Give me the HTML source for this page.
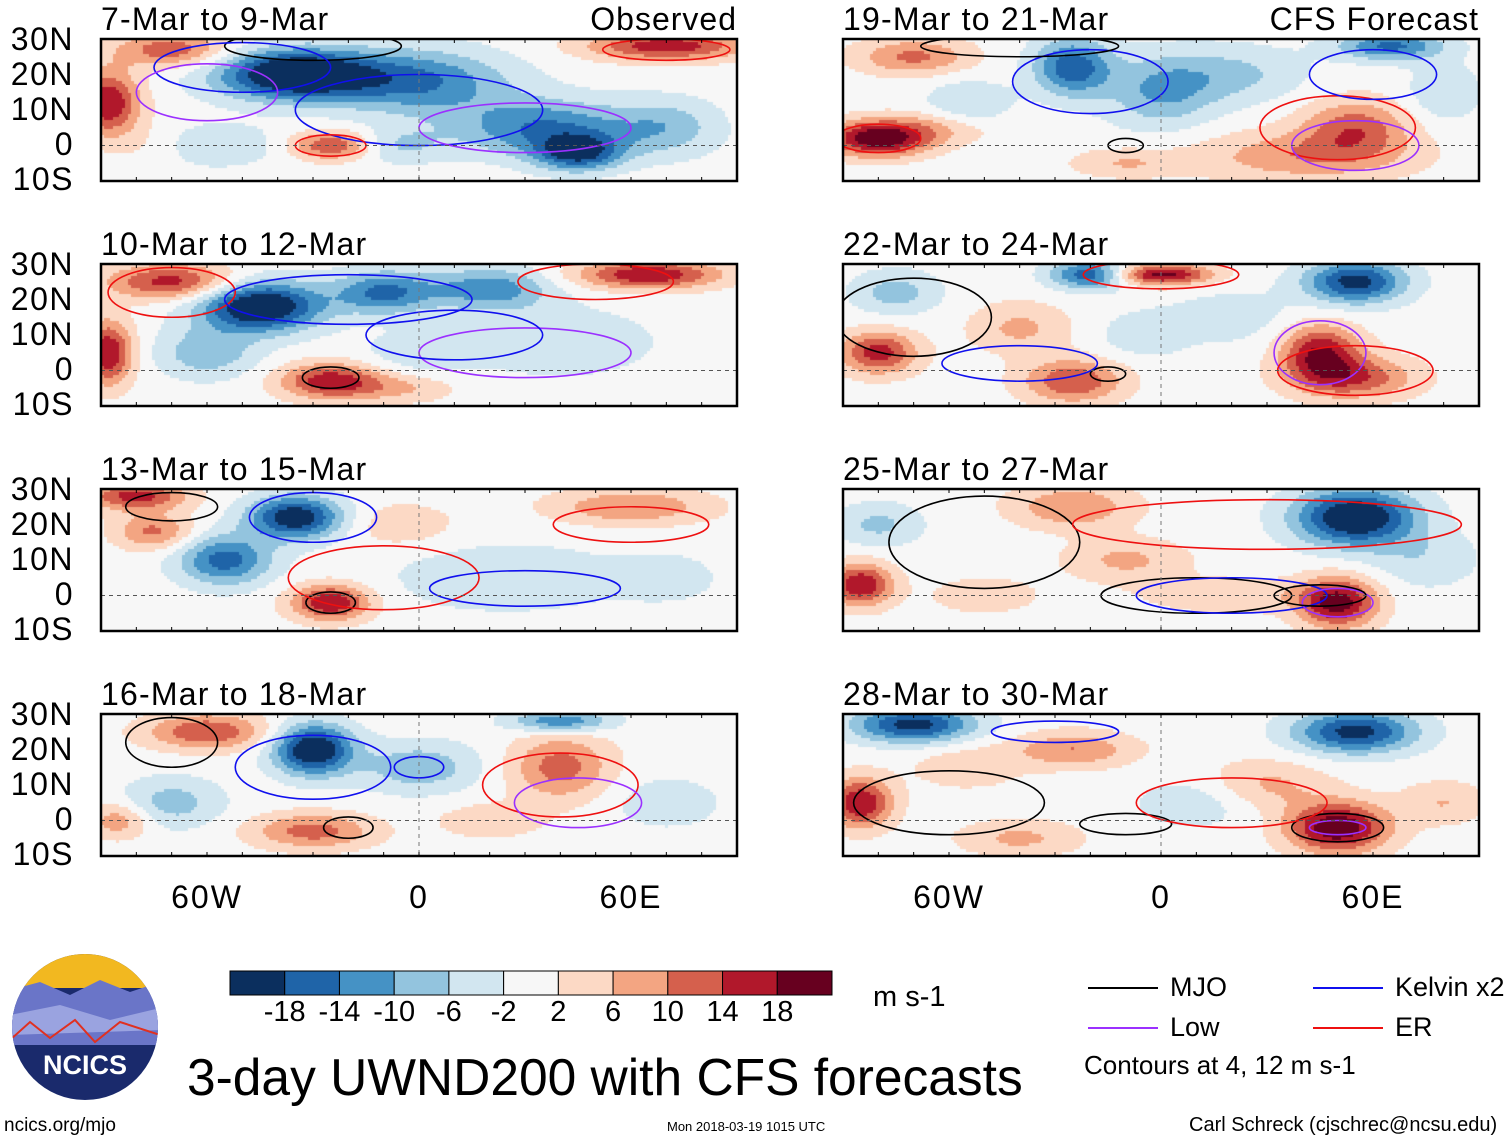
<!DOCTYPE html>
<html><head><meta charset="utf-8">
<style>
body{margin:0;background:#fff;width:1510px;height:1142px;position:relative;overflow:hidden;font-family:"Liberation Sans",sans-serif;}
.t{position:absolute;white-space:nowrap;color:#000;line-height:1;z-index:5;}
canvas{position:absolute;}
</style></head><body>
<svg id="ov" width="1510" height="1142" style="position:absolute;left:0;top:0"></svg>
<div id="root"></div>
<script>
// panel data: blobs [lon, lat, amp, rx, ry]
const panelTitles = ["7-Mar to 9-Mar","19-Mar to 21-Mar","10-Mar to 12-Mar","22-Mar to 24-Mar","13-Mar to 15-Mar","25-Mar to 27-Mar","16-Mar to 18-Mar","28-Mar to 30-Mar"];
const blobs0 = [[-35,20,-26,22,7],[0,18,-14,25,9],[35,5,-14,25,8],[45,-2,-18,12,5],[70,5,-8,15,8],[-88,12,18,9,9],[-25,0,14,11,4],[70,28,17,22,4],[-70,27,13,16,5],[-60,0,-6,20,6],[-5,0,-6,12,5],[-75,0,4,12,6]];
const blobs1 = [[-80,2,22,14,5],[-60,5,8,15,5],[-25,22,-17,11,8],[0,15,-10,15,10],[40,-3,9,30,7],[55,5,12,15,8],[65,28,-15,15,4],[-70,25,11,16,5],[-55,10,-7,12,8],[20,20,-7,20,8],[-10,-5,6,15,4],[80,15,-6,10,8]];
const blobs2 = [[-45,18,-25,17,7],[-10,22,-15,14,6],[20,23,-13,17,6],[-70,25,16,18,5],[-88,5,18,7,9],[-25,-3,17,14,5],[65,27,18,20,4],[-60,5,-9,14,7],[40,8,-6,25,9],[0,5,-5,15,6],[-5,-5,6,15,4]];
const blobs3 = [[-20,27,-18,11,4],[0,27,20,14,3],[55,25,-20,14,6],[45,5,18,11,8],[55,-2,13,17,6],[-80,5,16,11,6],[-25,-3,14,14,6],[-40,12,7,14,7],[-75,22,-8,12,6],[-5,10,-5,12,6],[20,15,-4,20,8]];
const blobs4 = [[-35,22,-22,13,6],[-55,10,-16,13,7],[-80,28,16,14,4],[-75,18,11,11,5],[-25,-2,18,11,5],[60,25,10,22,5],[25,5,-6,30,9],[-5,20,5,15,6],[70,5,-4,15,7]];
const blobs5 = [[55,22,-24,17,8],[50,-2,20,11,7],[-85,3,18,9,6],[-25,25,10,17,6],[-10,10,7,17,6],[-80,20,-7,12,6],[20,0,5,25,5],[-50,0,5,15,5],[75,10,-5,15,8]];
const blobs6 = [[-30,20,-24,11,7],[-60,25,14,17,5],[-30,-3,12,17,5],[40,15,12,14,9],[0,15,-9,17,7],[40,28,-14,14,3],[-70,5,-8,14,7],[-85,0,9,9,5],[70,5,-5,15,7],[20,0,5,15,5]];
const blobs7 = [[-70,27,-20,17,5],[55,25,-20,17,6],[50,-2,22,14,7],[-85,5,18,9,7],[-25,20,10,17,5],[-40,-5,7,17,5],[30,10,7,17,7],[10,5,-5,17,7],[-55,15,5,15,6],[80,5,6,12,6]];
const allBlobs = [blobs0,blobs1,blobs2,blobs3,blobs4,blobs5,blobs6,blobs7];
// contour ellipses [lon, lat, rx, ry, kind]
const contours = [
 [[-30,28,25,4,"k"],[-50,22,25,7,"b"],[0,10,35,10,"b"],[-60,15,20,8,"p"],[-25,0,10,3,"r"],[70,27,18,3,"r"],[30,5,30,7,"p"]],
 [[-80,2,12,4,"r"],[-20,18,22,9,"b"],[-10,0,5,2,"k"],[50,5,22,9,"r"],[55,0,18,7,"p"],[-40,28,28,3,"k"],[60,20,18,7,"b"]],
 [[-70,22,18,7,"r"],[-20,20,35,7,"b"],[-25,-2,8,3,"k"],[50,25,22,5,"r"],[30,5,30,7,"p"],[10,10,25,7,"b"]],
 [[0,27,22,4,"r"],[45,5,13,9,"p"],[55,0,22,7,"r"],[-15,-1,5,2,"k"],[-40,2,22,5,"b"],[-70,15,22,11,"k"]],
 [[-30,22,18,7,"b"],[-70,25,13,4,"k"],[-25,-2,7,3,"k"],[-10,5,27,9,"r"],[30,2,27,5,"b"],[60,20,22,5,"r"]],
 [[-50,15,27,13,"k"],[10,0,27,5,"k"],[20,0,27,5,"b"],[50,-2,10,4,"p"],[45,0,13,3,"k"],[30,20,55,7,"r"]],
 [[-30,15,22,9,"b"],[-70,22,13,7,"k"],[-20,-2,7,3,"k"],[40,10,22,9,"r"],[45,5,18,7,"p"],[0,15,7,3,"b"]],
 [[-60,5,27,9,"k"],[-10,-1,13,3,"k"],[50,-2,13,4,"k"],[50,-2,8,2,"p"],[-30,25,18,3,"b"],[20,5,27,7,"r"]]
];
const levels = [-18,-14,-10,-6,-2,2,6,10,14,18];
const colors = ["#0b2f5e","#1f64a8","#4592c5","#93c4de","#d2e6f0","#f7f7f7","#fcd9c5","#f3a582","#d5604d","#b1182b","#67001f"];
const latTicks = ["30N","20N","10N","0","10S"];
const lonTicks = ["60W","0","60E"];
const lonVals = [-60,0,60];
const cbLabels = ["-18","-14","-10","-6","-2","2","6","10","14","18"];

const root=document.getElementById('root');
const ov=document.getElementById('ov');
const NS="http://www.w3.org/2000/svg";
const PW=636,PH=142;
const colX=[101,843], rowY=[39,264,489,714];
const lx=(lon,x0)=>x0+(lon+90)/180*PW;
const ly=(lat,y0)=>y0+(30-lat)/40*PH;
function colorFor(v){let i=0;while(i<levels.length&&v>levels[i])i++;return colors[i];}
function txt(s,x,y,size,anchor,name,ls){const d=document.createElement('div');d.className='t';d.textContent=s;d.style.fontSize=size+'px';d.style.top=y+'px';
 if(ls)d.style.letterSpacing=ls+'px';
 if(anchor==='r'){d.style.right=(1510-x)+'px';}else if(anchor==='c'){d.style.left=x+'px';d.style.transform='translateX(-50%)';}else d.style.left=x+'px';
 root.appendChild(d);return d;}
const kcol={k:"#000",b:"#1010ee",p:"#9b30ff",r:"#ee1010"};
for(let p=0;p<8;p++){
 const c=p%2,r=Math.floor(p/2),x0=colX[c],y0=rowY[r];
 const cv=document.createElement('canvas');cv.width=PW;cv.height=PH;cv.style.left=x0+'px';cv.style.top=y0+'px';cv.style.zIndex=0;
 document.body.insertBefore(cv,ov);
 const ctx=cv.getContext('2d');const bl=allBlobs[p];const cs=3;
 for(let py=0;py<PH;py+=cs)for(let px=0;px<PW;px+=cs){
  const lon=-90+(px+cs/2)/PW*180,lat=30-(py+cs/2)/PH*40;let v=0;
  for(const b of bl){const dx=(lon-b[0])/b[3],dy=(lat-b[1])/b[4];v+=b[2]*Math.exp(-(dx*dx+dy*dy));}
  ctx.fillStyle=colorFor(v);ctx.fillRect(px,py,cs,cs);}
 const cp=document.createElementNS(NS,'clipPath');cp.id='clip'+p;const cr=document.createElementNS(NS,'rect');
 cr.setAttribute('x',x0);cr.setAttribute('y',y0);cr.setAttribute('width',PW);cr.setAttribute('height',PH);cp.appendChild(cr);ov.appendChild(cp);
 for(const e of contours[p]){const el=document.createElementNS(NS,'ellipse');
  el.setAttribute('cx',lx(e[0],x0));el.setAttribute('cy',ly(e[1],y0));el.setAttribute('rx',e[2]/180*PW);el.setAttribute('ry',e[3]/40*PH);
  el.setAttribute('fill','none');el.setAttribute('stroke',kcol[e[4]]);el.setAttribute('stroke-width','1.6');
  el.setAttribute('clip-path','url(#clip'+p+')');
  ov.appendChild(el);}
 const eq=document.createElementNS(NS,'line');eq.setAttribute('x1',x0);eq.setAttribute('x2',x0+PW);eq.setAttribute('y1',ly(0,y0));eq.setAttribute('y2',ly(0,y0));
 eq.setAttribute('stroke','#555');eq.setAttribute('stroke-dasharray','4,4');ov.appendChild(eq);
 const pm=document.createElementNS(NS,'line');pm.setAttribute('x1',lx(0,x0));pm.setAttribute('x2',lx(0,x0));pm.setAttribute('y1',y0);pm.setAttribute('y2',y0+PH);
 pm.setAttribute('stroke','#777');pm.setAttribute('stroke-dasharray','4,4');ov.appendChild(pm);
 const fr=document.createElementNS(NS,'rect');fr.setAttribute('x',x0);fr.setAttribute('y',y0);fr.setAttribute('width',PW);fr.setAttribute('height',PH);
 fr.setAttribute('fill','none');fr.setAttribute('stroke','#000');fr.setAttribute('stroke-width','2.5');
 ov.appendChild(fr);
 for(let lon=-90;lon<=90;lon+=10){for(const yy of [y0,y0+PH]){const t=document.createElementNS(NS,'line');const X=lx(lon,x0);
  t.setAttribute('x1',X);t.setAttribute('x2',X);t.setAttribute('y1',yy);t.setAttribute('y2',yy+(yy===y0?4:-4));t.setAttribute('stroke','#000');
  ov.appendChild(t);}}
 txt(panelTitles[p],x0,y0-36,32,'l','panel-title',1.2);
 if(r===0) txt(c===0?"Observed":"CFS Forecast",x0+PW,y0-36,32,'r','panel-label',1);
 if(c===0) latTicks.forEach((s,i)=>txt(s,74,y0-16+i*35,32,'r','lat-label',1.5));
}
for(let c=0;c<2;c++) lonVals.forEach((v,i)=>txt(lonTicks[i],lx(v,colX[c]),881,32,'c','lon-label',2));
const cbx=230,cby=971,cbw=602/11;
colors.forEach((col,i)=>{const rr=document.createElementNS(NS,'rect');rr.setAttribute('x',cbx+i*cbw);rr.setAttribute('y',cby);rr.setAttribute('width',cbw);rr.setAttribute('height',24);
 rr.setAttribute('fill',col);rr.setAttribute('stroke','#000');ov.appendChild(rr);});
cbLabels.forEach((s,i)=>txt(s,cbx+(i+1)*cbw,998,29,'c','colorbar-label'));
txt("m s-1",873,983,29,'l','units-label');
[["MJO","#000",1088,988],["Low","#9b30ff",1088,1028],["Kelvin x2","#1010ee",1313,988],["ER","#ee1010",1313,1028]].forEach(a=>{
 const l=document.createElementNS(NS,'line');l.setAttribute('x1',a[2]);l.setAttribute('x2',a[2]+70);l.setAttribute('y1',a[3]);l.setAttribute('y2',a[3]);
 l.setAttribute('stroke',a[1]);l.setAttribute('stroke-width','2');ov.appendChild(l);
 txt(a[0],a[2]+82,a[3]-14,27,'l','legend-entry');});
txt("Contours at 4, 12 m s-1",1084,1052,26,'l','contour-note');
txt("3-day UWND200 with CFS forecasts",187,1052,51.5,'l','main-title');
txt("ncics.org/mjo",4,1116,19,'l','footer-url');
txt("Mon 2018-03-19 1015 UTC",667,1120,13,'l','footer-date');
txt("Carl Schreck (cjschrec@ncsu.edu)",1189,1115,20,'l','footer-author');
ov.insertAdjacentHTML('beforeend','<g><clipPath id="lc"><circle cx="85" cy="1027" r="73"/></clipPath><g clip-path="url(#lc)"><rect x="10" y="953" width="150" height="150" fill="#1a2a6c"/><rect x="10" y="953" width="150" height="35" fill="#f2b820"/><path d="M10 990 L40 982 L70 995 L100 980 L130 992 L160 982 L160 1045 L10 1045Z" fill="#6a75c8"/><path d="M10 1015 L60 1005 L110 1020 L160 1008 L160 1030 L10 1035Z" fill="#9aa3e0"/><path d="M10 1040 L30 1022 L50 1038 L75 1020 L95 1042 L120 1022 L160 1035" fill="none" stroke="#e03020" stroke-width="2"/></g></g>');
txt("NCICS",85,1052,27,'c','logo-text').style.cssText+='color:#fff;font-weight:bold;';
</script>
</body></html>
